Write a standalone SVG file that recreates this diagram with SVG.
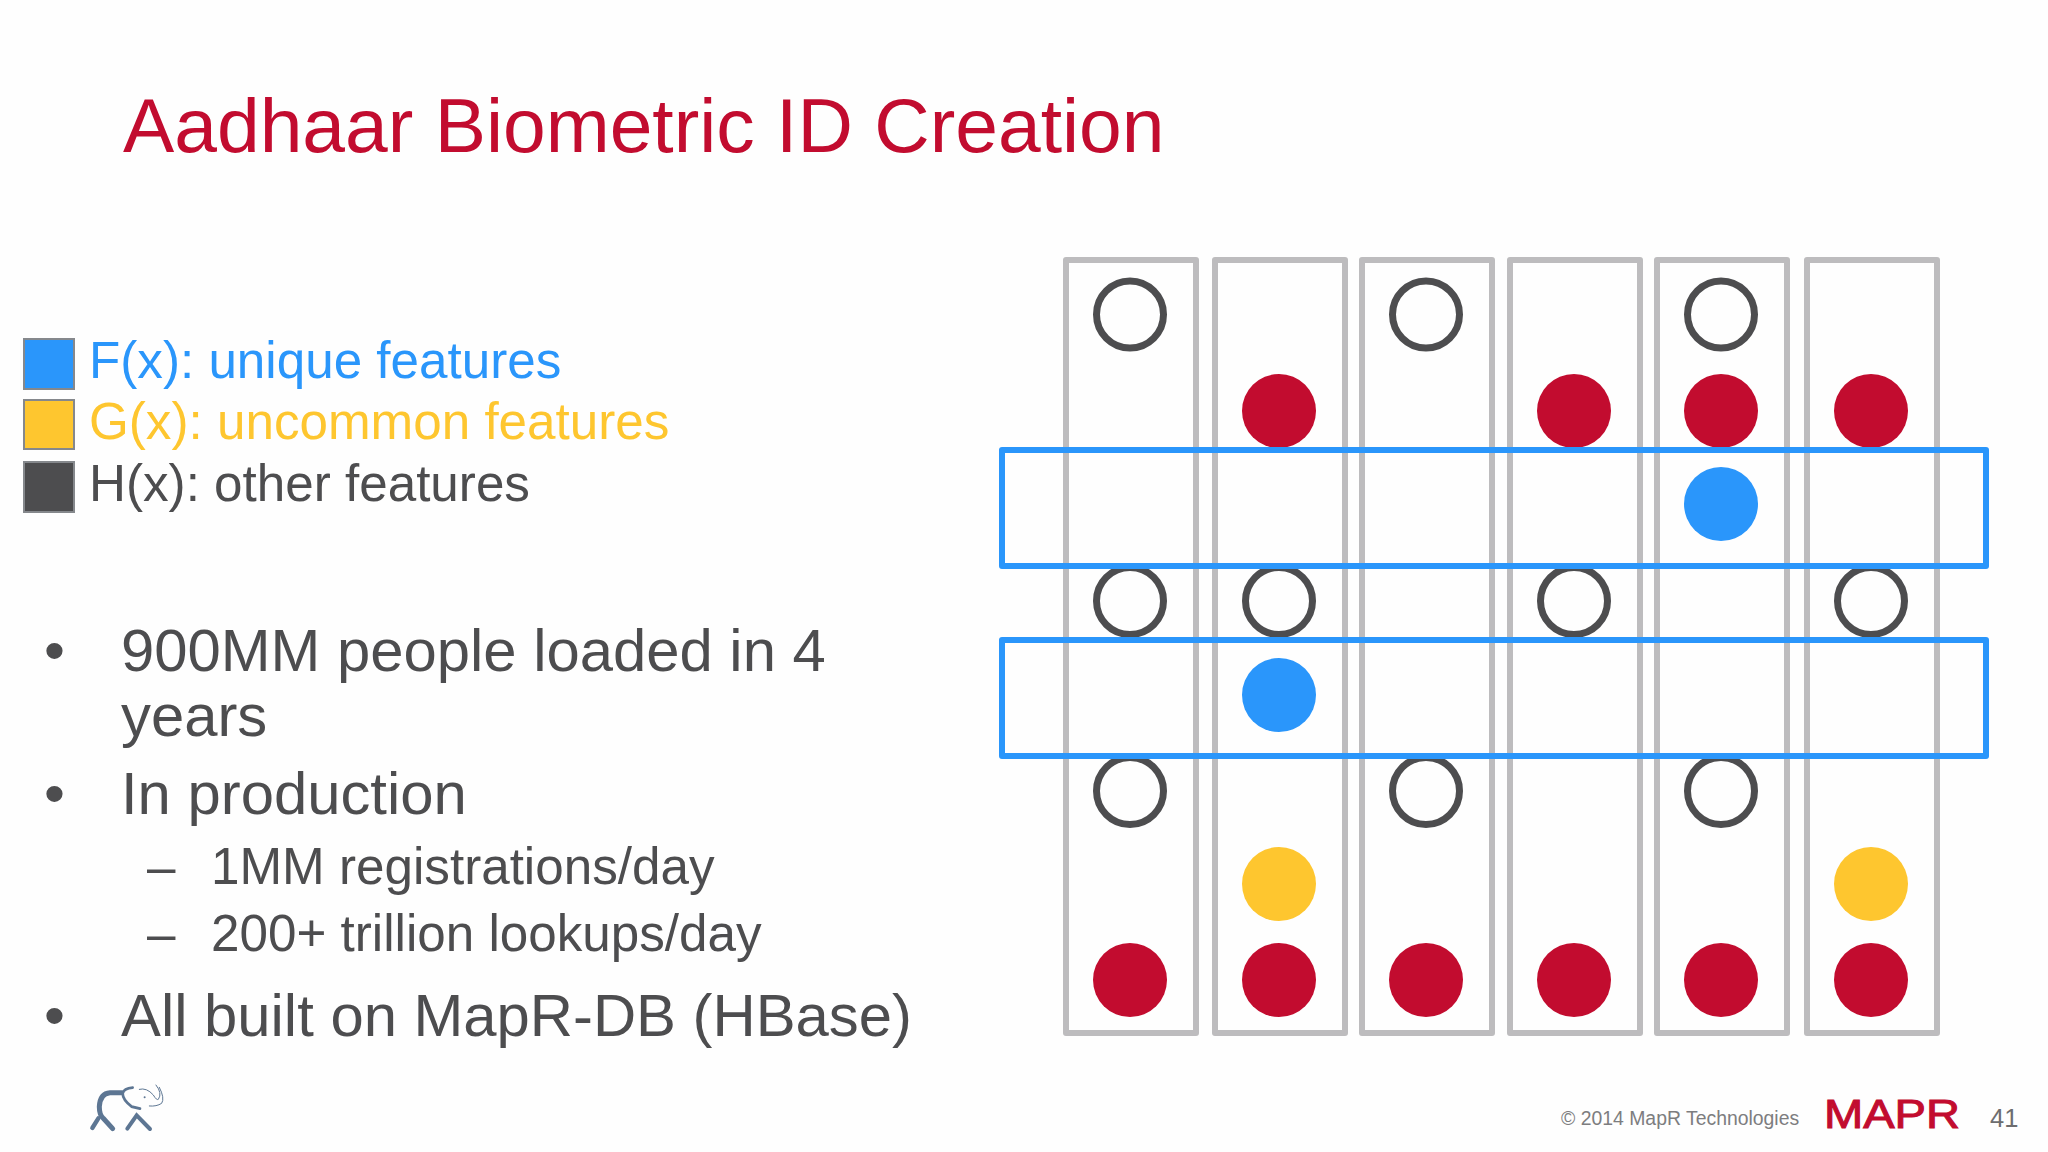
<svg xmlns="http://www.w3.org/2000/svg" width="2048" height="1152" viewBox="0 0 2048 1152">
<style>
text{font-family:"Liberation Sans",Arial,sans-serif}
.c{fill:none;stroke:#bdbcbe;stroke-width:6;stroke-linejoin:round}
.b{fill:none;stroke:#2a96fb;stroke-width:6;stroke-linejoin:round}
.r{fill:#c20c2f}.u{fill:#2a96fb}.y{fill:#fec62f}
.o{fill:none;stroke:#4d4d4f;stroke-width:7}
.t{fill:#4d4d4f}
.l{font-size:51.200px}.m{font-size:59.800px}.s{font-size:51.200px}
</style>
<rect width="2048" height="1152" fill="#fefefe"/>
<text id="title" x="123" y="152" font-size="76.800" fill="#c20c2f">Aadhaar Biometric ID Creation</text>
<g id="legend">
<rect x="24" y="339" width="50" height="50" class="u" stroke="#85888c" stroke-width="2"/>
<rect x="24" y="400" width="50" height="49" class="y" stroke="#85888c" stroke-width="2"/>
<rect x="24" y="462" width="50" height="50" fill="#4d4d4f" stroke="#85888c" stroke-width="2"/>
<text x="89" y="378" class="l" fill="#2a96fb">F(x): unique features</text>
<text x="89" y="439" class="l" fill="#fec62f">G(x): uncommon features</text>
<text x="89" y="501" class="l t">H(x): other features</text>
</g>
<g id="bullets" class="t">
<text x="44" y="671" class="m">•</text>
<text x="121" y="671" class="m">900MM people loaded in 4</text>
<text x="121" y="736" class="m">years</text>
<text x="44" y="814" class="m">•</text>
<text x="121" y="814" class="m">In production</text>
<text x="147" y="884" class="s">–</text>
<text x="211" y="884" class="s">1MM registrations/day</text>
<text x="147" y="951" class="s">–</text>
<text x="211" y="951" class="s">200+ trillion lookups/day</text>
<text x="44" y="1036" class="m">•</text>
<text x="121" y="1036" class="m">All built on MapR-DB (HBase)</text>
</g>
<g id="columns">
<rect x="1066" y="260" width="130" height="773" class="c"/>
<rect x="1215" y="260" width="130" height="773" class="c"/>
<rect x="1362" y="260" width="130" height="773" class="c"/>
<rect x="1510" y="260" width="130" height="773" class="c"/>
<rect x="1657" y="260" width="130" height="773" class="c"/>
<rect x="1807" y="260" width="130" height="773" class="c"/>
</g>
<g id="dots">
<circle cx="1130" cy="314.500" r="33.500" class="o"/><circle cx="1426" cy="314.500" r="33.500" class="o"/><circle cx="1721" cy="314.500" r="33.500" class="o"/>
<circle cx="1279" cy="411" r="37" class="r"/><circle cx="1574" cy="411" r="37" class="r"/><circle cx="1721" cy="411" r="37" class="r"/><circle cx="1871" cy="411" r="37" class="r"/>
<circle cx="1721" cy="504" r="37" class="u"/>
<circle cx="1130" cy="601" r="33.500" class="o"/><circle cx="1279" cy="601" r="33.500" class="o"/><circle cx="1574" cy="601" r="33.500" class="o"/><circle cx="1871" cy="601" r="33.500" class="o"/>
<circle cx="1279" cy="695" r="37" class="u"/>
<circle cx="1130" cy="791" r="33.500" class="o"/><circle cx="1426" cy="791" r="33.500" class="o"/><circle cx="1721" cy="791" r="33.500" class="o"/>
<circle cx="1279" cy="884" r="37" class="y"/><circle cx="1871" cy="884" r="37" class="y"/>
<circle cx="1130" cy="980" r="37" class="r"/><circle cx="1279" cy="980" r="37" class="r"/><circle cx="1426" cy="980" r="37" class="r"/><circle cx="1574" cy="980" r="37" class="r"/><circle cx="1721" cy="980" r="37" class="r"/><circle cx="1871" cy="980" r="37" class="r"/>
</g>
<g id="rows">
<rect x="1002" y="450" width="984" height="116" class="b"/>
<rect x="1002" y="640" width="984" height="116" class="b"/>
</g>
<g id="elephant" transform="translate(0 1050) scale(.3333)" fill="none" stroke="#5d7693" stroke-linecap="round">
<path d="M365 128H330Q300 130 298 170Q298 195 310 205L338 236" stroke-width="15"/>
<path d="M277 234L295 205" stroke-width="13"/>
<path d="M382 236L410 196L450 237" stroke-width="12"/>
<path d="M398 113Q372 115 368 130Q368 150 395 170L420 176" stroke-width="8"/>
<path d="M418 118Q440 112 460 135Q470 152 475 148Q488 130 468 105" stroke-width="3"/>
<path d="M478 112Q495 145 485 160Q470 170 448 168" stroke-width="3"/>
<circle cx="434" cy="142" r="3" fill="#5d7693" stroke="none"/>
</g>
<g id="footer">
<text x="1561" y="1125" font-size="19.400" fill="#7d7d7f">© 2014 MapR Technologies</text>
<text x="1824" y="1128" font-size="40" fill="#c20c2f" stroke="#c20c2f" stroke-width="1" textLength="136" lengthAdjust="spacingAndGlyphs">MAPR</text>
<text x="1990" y="1127" font-size="25.500" fill="#6d6d6f">41</text>
</g>
</svg>
